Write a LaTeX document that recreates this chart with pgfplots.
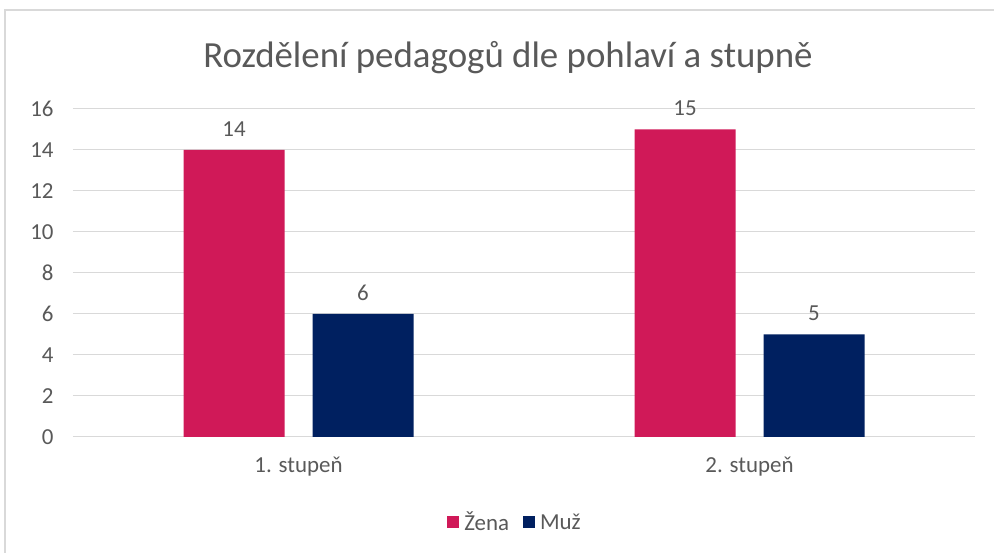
\documentclass[border=0pt]{standalone}
\usepackage{fontspec}
\setmainfont{Carlito}
\usepackage{pgfplots}
\pgfplotsset{compat=1.18}
\definecolor{zena}{RGB}{208,25,88}
\definecolor{muz}{RGB}{0,32,96}
\definecolor{txtc}{RGB}{89,89,89}
\definecolor{gridc}{RGB}{217,217,217}
\begin{document}
\begin{tikzpicture}[x=1bp,y=1bp]
\useasboundingbox (-73,-116) rectangle (921,437);
\draw[gridc, line width=1.2bp] (-68,427) rectangle (940,-130);
\node[text=txtc, font=\fontsize{37}{40}\selectfont] at (435,379) {Rozdělení pedagogů dle pohlaví a stupně};
\begin{axis}[
    at={(0,0)}, anchor=south west,
    scale only axis, width=902bp, height=328bp,
    ybar, bar width=101bp,
    xmin=-0.5, xmax=1.5, ymin=0, ymax=16,
    xtick={0,1}, xticklabels={1. stupeň,2. stupeň},
    ytick={0,2,...,16},
    axis x line*=bottom, axis y line*=left,
    x axis line style={draw=gridc, line width=1bp},
    y axis line style={draw=none},
    major tick length=0pt,
    ymajorgrids, major grid style={draw=gridc, line width=1bp},
    tick label style={text=txtc, font=\fontsize{23}{26}\selectfont},
    /pgf/number format/assume math mode=true,
    yticklabel style={xshift=-16bp},
    xticklabel style={yshift=-17bp},
    nodes near coords,
    nodes near coords style={text=txtc, font=\fontsize{23}{26}\selectfont, yshift=10bp},
    legend style={at={(0.49,-0.26)}, anchor=center, draw=none, legend columns=2,
        font=\fontsize{23}{26}\selectfont, text=txtc,
        /tikz/every odd column/.append style={column sep=3bp},
        /tikz/every even column/.append style={column sep=12bp}},
    legend image code/.code={\fill[#1] (0bp,-6bp) rectangle (12bp,6bp);},
]
\addplot[fill=zena, draw=none, bar shift=-64.5bp] coordinates {(0,14) (1,15)};
\addplot[fill=muz, draw=none, bar shift=64.5bp] coordinates {(0,6) (1,5)};
\legend{Žena,Muž}
\end{axis}
\end{tikzpicture}
\end{document}
